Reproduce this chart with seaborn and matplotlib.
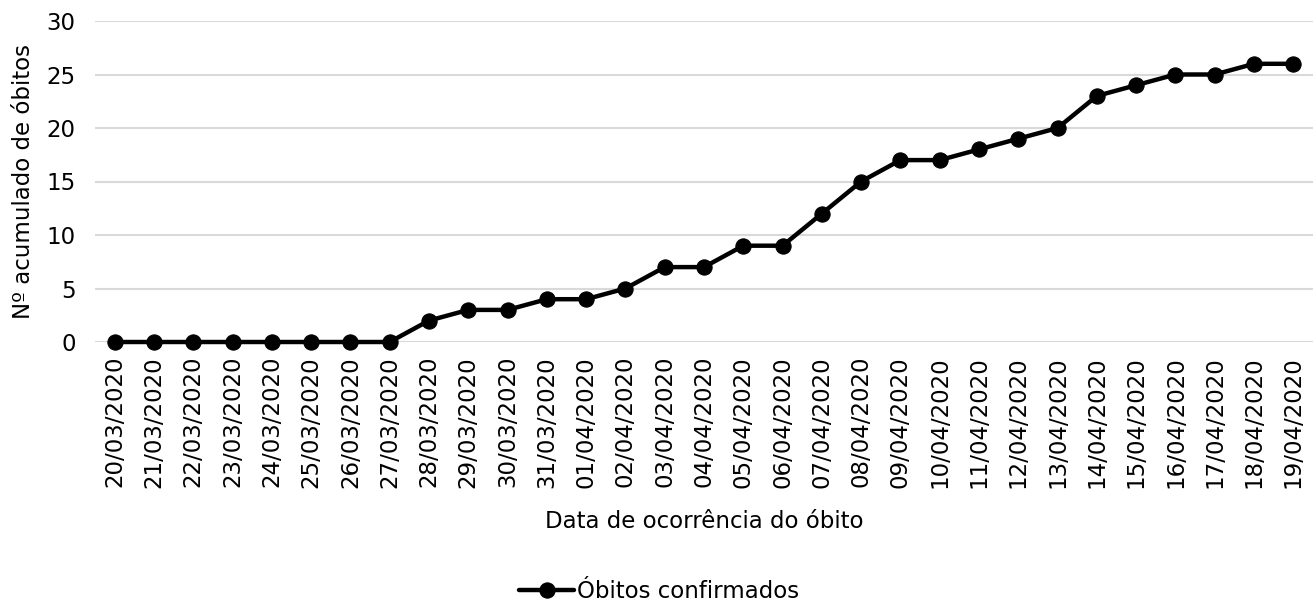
import matplotlib
matplotlib.use("Agg")
import matplotlib.pyplot as plt
import seaborn as sns
import pandas as pd

datas = ["20/03/2020", "21/03/2020", "22/03/2020", "23/03/2020", "24/03/2020",
         "25/03/2020", "26/03/2020", "27/03/2020", "28/03/2020", "29/03/2020",
         "30/03/2020", "31/03/2020", "01/04/2020", "02/04/2020", "03/04/2020",
         "04/04/2020", "05/04/2020", "06/04/2020", "07/04/2020", "08/04/2020",
         "09/04/2020", "10/04/2020", "11/04/2020", "12/04/2020", "13/04/2020",
         "14/04/2020", "15/04/2020", "16/04/2020", "17/04/2020", "18/04/2020",
         "19/04/2020"]
obitos = [0, 0, 0, 0, 0, 0, 0, 0, 2, 3, 3, 4, 4, 5, 7, 7, 9, 9, 12, 15,
          17, 17, 18, 19, 20, 23, 24, 25, 25, 26, 26]
y_ticks = [0, 5, 10, 15, 20, 25, 30]

sns.set_theme(style="white")
plt.rcParams['font.family'] = ['DejaVu Sans']

df = pd.DataFrame({"pos": range(len(datas)), "data": datas, "obitos": obitos})

W, H = 1313, 608
FS = 16.5
fig = plt.figure(figsize=(W / 100, H / 100), dpi=100)
ax = fig.add_axes([95 / W, 1 - 342 / H, (1313 - 95) / W, (342 - 21) / H])

sns.lineplot(data=df, x="pos", y="obitos", ax=ax, color="black", linewidth=3.2,
             marker="o", markersize=11, markeredgecolor="black",
             label="Óbitos confirmados", clip_on=False, zorder=3)

ax.set_xlim(-0.5, len(datas) - 0.5)
ax.set_ylim(0, 30)
ax.set_yticks(y_ticks)
ax.set_xticks(range(len(datas)))
ax.set_xticklabels(datas, rotation=90, fontsize=FS, color="black")
ax.tick_params(axis="y", labelsize=FS, colors="black", length=0, pad=14)
ax.tick_params(axis="x", length=0, pad=10)
ax.grid(axis="y", color="#d9d9d9", linewidth=1.5)
ax.grid(axis="x", visible=False)
for s in ax.spines.values():
    s.set_visible(False)

ax.set_xlabel("Data de ocorrência do óbito", fontsize=FS, color="black", labelpad=16)
ax.set_ylabel("Nº acumulado de óbitos", fontsize=FS, color="black", labelpad=8)

leg = ax.legend(loc="center", bbox_to_anchor=(659 / W, 1 - 592 / H),
                bbox_transform=fig.transFigure, frameon=False, fontsize=FS,
                handlelength=2.4, handletextpad=0.1, borderpad=0)
for t in leg.get_texts():
    t.set_color("black")

fig.savefig("out.png", dpi=100)
